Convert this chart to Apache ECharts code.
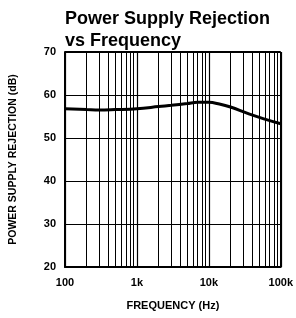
<!DOCTYPE html>
<html>
<head>
<meta charset="utf-8">
<script src="https://cdn.jsdelivr.net/npm/echarts@6/dist/echarts.min.js"></script>
<style>
html, body { margin: 0; padding: 0; background: #fff; }
#chart { width: 296px; height: 318px; }
</style>
</head>
<body>
<div id="chart"></div>
<script>
// frequency (Hz) vs rejection (dB)
const freqs = [100, 200, 300, 500, 1000, 2000, 3000, 5000, 7000, 10000, 14000, 20000, 36000, 60000, 100000]
const psrr = [56.8, 56.6, 56.5, 56.6, 56.8, 57.3, 57.6, 58.0, 58.3, 58.3, 57.9, 57.2, 55.6, 54.4, 53.3]
// minor log grid lines
const gridFreqs = [200, 300, 400, 500, 600, 700, 800, 900,
    2000, 3000, 4000, 5000, 6000, 7000, 8000, 9000,
    20000, 30000, 40000, 50000, 60000, 70000, 80000, 90000]
const xTickLabels = { 100: '100', 1000: '1k', 10000: '10k', 100000: '100k' }

const font = 'Liberation Sans, Arial, sans-serif'
const chart = echarts.init(document.getElementById('chart'))
chart.setOption({
    animation: false,
    title: {
        text: 'Power Supply Rejection\nvs Frequency',
        left: 60,
        top: 3,
        textStyle: { fontFamily: font, fontSize: 18, fontWeight: 'bold', color: '#000', lineHeight: 22 }
    },
    grid: { left: 64, right: 14, top: 52, bottom: 51 },
    xAxis: {
        type: 'log',
        min: 100,
        max: 100000,
        logBase: 10,
        name: 'FREQUENCY (Hz)',
        nameLocation: 'middle',
        nameGap: 33,
        nameTextStyle: { fontFamily: font, fontSize: 11, fontWeight: 'bold', color: '#000' },
        axisLine: { lineStyle: { color: '#000', width: 2 } },
        axisTick: { show: false },
        axisLabel: {
            fontFamily: font, fontSize: 11, fontWeight: 'bold', color: '#000', margin: 10,
            formatter: (v) => xTickLabels[Math.round(v)] || ''
        },
        splitLine: { show: true, lineStyle: { color: '#000', width: 1.2 } }
    },
    yAxis: {
        type: 'value',
        min: 20,
        max: 70,
        interval: 10,
        name: 'POWER SUPPLY REJECTION (dB)',
        nameLocation: 'middle',
        nameGap: 46,
        nameTextStyle: { fontFamily: font, fontSize: 10.5, fontWeight: 'bold', color: '#000' },
        axisLine: { show: true, lineStyle: { color: '#000', width: 2 } },
        axisTick: { show: false },
        axisLabel: { fontFamily: font, fontSize: 11, fontWeight: 'bold', color: '#000', margin: 9 },
        splitLine: { show: true, lineStyle: { color: '#000', width: 1.2 } }
    },
    series: [
        {
            type: 'line',
            data: freqs.map((f, i) => [f, psrr[i]]),
            smooth: 0.4,
            symbol: 'none',
            lineStyle: { color: '#000', width: 3 },
            markLine: {
                silent: true,
                symbol: 'none',
                label: { show: false },
                lineStyle: { color: '#000', width: 1, type: 'solid' },
                data: gridFreqs.map((f) => ({ xAxis: f }))
            }
        },
        {
            // right and top border
            type: 'line',
            data: [],
            markLine: {
                silent: true,
                symbol: 'none',
                label: { show: false },
                lineStyle: { color: '#000', width: 2, type: 'solid' },
                data: [{ xAxis: 100000 }, { yAxis: 70 }]
            }
        }
    ]
})
</script>
</body>
</html>
